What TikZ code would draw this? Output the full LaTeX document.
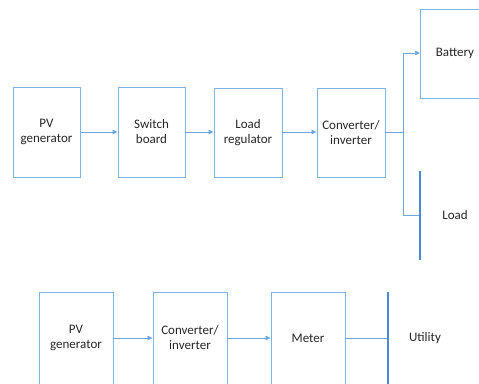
\documentclass[tikz,border=0pt]{standalone}
\usepackage{fontspec}
\setmainfont{Carlito}
\usetikzlibrary{arrows.meta}
\definecolor{boxblue}{HTML}{7FB2E5}
\definecolor{lineblue}{HTML}{6FA6DC}
\definecolor{barblue}{HTML}{4A8AD0}
\definecolor{textgray}{HTML}{262626}
\tikzset{
  block/.style={draw=boxblue, line width=0.9pt, minimum width=#1, align=center, inner sep=0pt},
  link/.style={draw=lineblue, line width=0.7pt},
  flow/.style={link, -{Triangle[length=5pt,width=4.5pt]}},
  bus/.style={draw=barblue, line width=2.8pt},
  lbl/.style={inner sep=0pt},
  every node/.style={font=\fontsize{13}{15}\selectfont, text=textgray},
}
\begin{document}
\begin{tikzpicture}[x=1pt,y=-1pt]
\useasboundingbox (0,0) rectangle (479,383);
\clip (0,0) rectangle (479,383);
% upper chain: stand-alone system
\node[block=67pt, minimum height=90pt] (pv1) at (46.5,132) {PV\\generator};
\node[block=67pt, minimum height=90pt] (sw) at (151.5,132) {Switch\\board};
\node[block=68pt, minimum height=89pt] (reg) at (248,132.5) {Load\\regulator};
\node[block=68pt, minimum height=89pt] (inv1) at (351,132.5) {Converter/\\inverter};
\node[block=70pt, minimum height=89pt, anchor=north west] (bat) at (420,9) {};
\node[lbl] (battxt) at (455,53) {Battery};
\coordinate (split) at (403,132);
\coordinate (loadbus) at (420,215);
\node[lbl] (loadtxt) at (455,215) {Load};
\draw[flow] (pv1.east |- 0,132) -- (sw.west |- 0,132);
\draw[flow] (sw.east |- 0,132) -- (reg.west |- 0,132);
\draw[flow] (reg.east |- 0,132) -- (inv1.west |- 0,132);
\draw[link] (inv1.east |- split) -- (split);
\draw[flow] (split) |- (bat.west |- battxt);
\draw[link] (split) |- (loadbus);
\draw[bus] (420,171) -- (420,260);
% lower chain: grid-connected system
\node[block=74pt, minimum height=100pt, anchor=north] (pv2) at (76,292) {};
\node[lbl, align=center] at (76,338) {PV\\generator};
\node[block=74pt, minimum height=100pt, anchor=north] (inv2) at (190,292) {};
\node[lbl, align=center] at (190,338) {Converter/\\inverter};
\node[block=74pt, minimum height=100pt, anchor=north] (meter) at (308,292) {};
\node[lbl] at (308,338) {Meter};
\coordinate (utilbus) at (388,338);
\node[lbl] (utiltxt) at (425,338) {Utility};
\draw[flow] (pv2.east |- 0,338) -- (inv2.west |- 0,338);
\draw[flow] (inv2.east |- 0,338) -- (meter.west |- 0,338);
\draw[link] (meter.east |- utilbus) -- (utilbus);
\draw[bus] (388,292) -- (388,390);
\end{tikzpicture}
\end{document}
